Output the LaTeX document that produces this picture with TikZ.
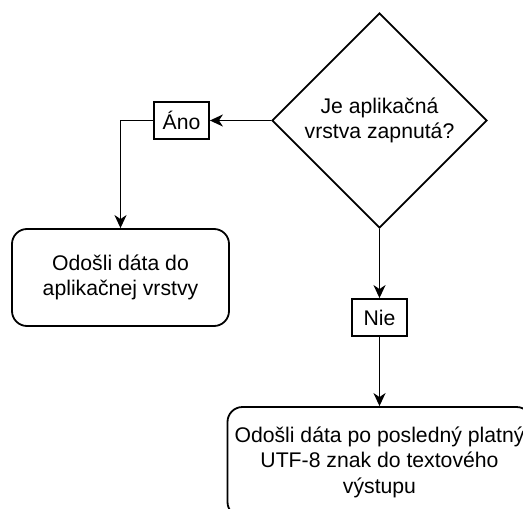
\documentclass[tikz,border=0pt]{standalone}
\usepackage{fontspec}
\setmainfont{Liberation Sans}
\usetikzlibrary{shapes.geometric,arrows.meta}

\tikzset{
  decision/.style={draw,diamond,aspect=1,minimum width=215pt,minimum height=215pt,inner sep=0pt,align=center},
  answer/.style={draw,rectangle,inner sep=0pt,minimum width=55pt,minimum height=37pt},
  action/.style={draw,rounded corners=15pt,align=center,inner sep=0pt},
  flow/.style={-{Stealth[length=13pt,width=12pt,inset=4pt]}}
}

\begin{document}
\begin{tikzpicture}[x=1pt,y=-1pt,line width=1.8pt,font=\fontsize{21.2}{25.5}\selectfont]
        \useasboundingbox (0,0) rectangle (523,509);
        \clip (0,0) rectangle (523,509);
        \node[decision] (quest) at (379.5,120.5) {Je aplikačná\\vrstva zapnutá?};
        \node[answer] (ano) at (181.5,120.5) {Áno};
        \node[answer] (nie) at (379.5,317.5) {Nie};
        \node[action,minimum width=217pt,minimum height=97pt] (app) at (120.5,277.5) {Odošli dáta do\\aplikačnej vrstvy};
        \node[action,minimum width=304pt,minimum height=110pt] (out) at (379.5,462) {Odošli dáta po posledný platný\\UTF-8 znak do textového\\výstupu};
        \draw[flow] (quest.west) -- (ano.east);
        \draw[flow] (ano.west) -| (app.north);
        \draw[flow] (quest.south) -- (nie.north);
        \draw[flow] (nie.south) -- (out.north);
    \end{tikzpicture}
\end{document}
